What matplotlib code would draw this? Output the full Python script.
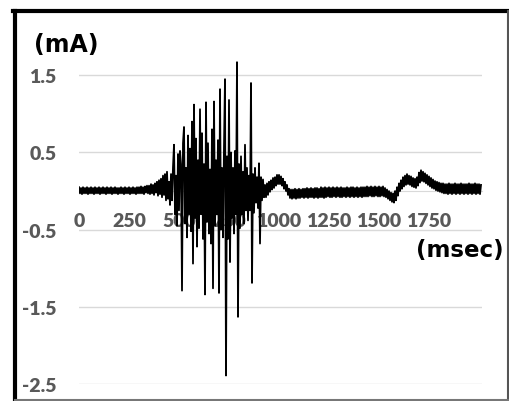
import numpy as np
import matplotlib.pyplot as plt
from matplotlib.lines import Line2D

# sampled every 5 ms
step_ms = 5

quiet = [
    0.05, -0.03, 0.04, -0.04, 0.05, -0.03, 0.04, -0.03, 0.05, -0.04, 0.04, -0.03, 0.05, -0.03, 0.04, -0.04, 0.05, -0.03, 0.04, -0.03,
    0.05, -0.04, 0.04, -0.03, 0.05, -0.03, 0.04, -0.04, 0.05, -0.03, 0.04, -0.03, 0.05, -0.04, 0.04, -0.03, 0.05, -0.03, 0.04, -0.04,
    0.04, -0.03, 0.05, -0.03, 0.04, -0.04, 0.05, -0.03, 0.04, -0.03, 0.05, -0.04, 0.04, -0.03, 0.05, -0.03, 0.04, -0.04, 0.05, -0.03,
    0.05, -0.03, 0.06, -0.03, 0.05, -0.04, 0.06, -0.02, 0.07, -0.03,
    0.07, -0.04, 0.09, -0.03, 0.08, -0.05, 0.10, -0.02, 0.12, -0.06, 0.14, -0.04, 0.16, -0.08, 0.20, -0.05, 0.22, -0.12, 0.25, -0.10,
]

burst = [
    0.12, -0.18, 0.22, -0.12, 0.31, 0.60, -0.30, 0.20, -0.45, 0.48,
    -0.25, 0.52, 0.35, -1.29, 0.62, 0.83, -0.42, 0.30, -0.60, 0.72,
    -0.30, 0.55, -0.52, 0.90, -0.94, 1.12, -0.35, 0.68, -0.72, 0.40,
    -0.48, 1.06, -0.30, 0.75, -0.62, 0.35, -1.34, 1.15, -0.40, 0.62,
    -0.55, 0.28, -0.68, 0.80, -1.26, 1.16, -0.45, 0.40, -0.30, 0.66,
    -1.32, 1.32, -0.50, 0.30, -0.60, 0.58, 1.45, -2.39, 0.45, -0.62,
    1.18, -0.92, 0.50, -0.35, 0.30, -0.55, 0.52, -0.30, 1.67, -1.63,
    0.35, -0.48, 0.45, -0.30, 0.25, -0.42, 0.60, -0.25, 0.30, -0.38,
    0.20, -0.25, 1.40, -1.19, 0.22, -0.28, 0.30, -0.15, 0.18, -0.22,
    0.36, -0.68, 0.18, -0.12, 0.15, -0.08,
]

after = [
    0.08, -0.08, 0.10, -0.05, 0.12, -0.01, 0.14, 0.02, 0.17, 0.04, 0.18, 0.07, 0.21, 0.09, 0.21, 0.09, 0.19, 0.07, 0.16, 0.03,
    0.12, 0.00, 0.08, -0.05, 0.03, -0.09, 0.02, -0.10, 0.02, -0.09, 0.03, -0.10, 0.02, -0.09, 0.03, -0.09, 0.02, -0.08, 0.03, -0.09,
    0.03, -0.08, 0.04, -0.09, 0.03, -0.08, 0.04, -0.08, 0.03, -0.09, 0.04, -0.08, 0.04, -0.09, 0.03, -0.08, 0.05, -0.08, 0.04, -0.09,
    0.05, -0.08, 0.04, -0.07, 0.05, -0.08, 0.04, -0.08, 0.05, -0.07, 0.04, -0.08, 0.05, -0.07, 0.04, -0.08, 0.05, -0.08, 0.04, -0.07,
    0.04, -0.08, 0.05, -0.07, 0.04, -0.08, 0.05, -0.07, 0.05, -0.08, 0.04, -0.07, 0.05, -0.08, 0.04, -0.07, 0.05, -0.08, 0.05, -0.07,
    0.05, -0.07, 0.06, -0.07, 0.05, -0.06, 0.06, -0.07, 0.05, -0.07, 0.06, -0.06, 0.05, -0.07, 0.06, -0.07, 0.05, -0.06, 0.06, -0.07,
    0.04, -0.08, 0.02, -0.10, 0.00, -0.12, -0.02, -0.14, -0.03, -0.15, 0.00, -0.12, 0.05, -0.06, 0.10, 0.00, 0.14, 0.03, 0.18, 0.06,
    0.20, 0.08, 0.22, 0.09, 0.20, 0.08, 0.19, 0.06, 0.17, 0.05, 0.16, 0.04, 0.18, 0.07, 0.24, 0.11, 0.27, 0.13, 0.25, 0.12,
    0.23, 0.10, 0.21, 0.08, 0.19, 0.06, 0.17, 0.04, 0.15, 0.03, 0.13, 0.01, 0.12, 0.00, 0.11, -0.01, 0.10, -0.02, 0.10, -0.03,
    0.09, -0.03, 0.09, -0.04, 0.10, -0.03, 0.09, -0.04, 0.09, -0.03, 0.10, -0.04, 0.09, -0.03, 0.09, -0.04, 0.10, -0.03, 0.09, -0.04,
    0.09, -0.03, 0.09, -0.04, 0.10, -0.03, 0.09, -0.04, 0.09, -0.03, 0.10, -0.04, 0.09, -0.03, 0.09, -0.04, 0.08,
]

current_ma = quiet + burst + after
time_ms = np.arange(len(current_ma)) * step_ms

x_ticks = [0, 250, 500, 750, 1000, 1250, 1500, 1750]
y_ticks = [-2.5, -1.5, -0.5, 0.5, 1.5]

plt.rcParams['font.family'] = ['Lato', 'DejaVu Sans']

fig = plt.figure(figsize=(5.1, 4.02), dpi=100)
ax = fig.add_axes([79 / 510, 17 / 402, 403 / 510, 328 / 402])

ax.plot(time_ms, current_ma, color='black', lw=1.3)

ax.set_xlim(0, 2015)
ax.set_ylim(-2.5, 1.75)
ax.set_yticks(y_ticks)
ax.set_yticklabels(['-2.5', '-1.5', '-0.5', '0.5', '1.5'])
ax.set_xticks(x_ticks)
ax.grid(axis='y', color='#d9d9d9', lw=1.0)
ax.set_axisbelow(True)

for s in ['top', 'right', 'left']:
    ax.spines[s].set_visible(False)
ax.spines['bottom'].set_position(('data', 0))
ax.spines['bottom'].set_color('#d9d9d9')
ax.spines['bottom'].set_zorder(0)

ax.tick_params(axis='both', length=0, labelcolor='#595959', labelsize=14)
ax.tick_params(axis='x', pad=15)
ax.tick_params(axis='y', pad=16)
for lab in ax.get_xticklabels() + ax.get_yticklabels():
    lab.set_fontweight('heavy')

fig.text(66 / 510, 1 - 45 / 402, '(mA)', fontsize=17, fontweight='bold',
         family='DejaVu Sans', ha='center', va='center')
fig.text(460 / 510, 1 - 251 / 402, '(msec)', fontsize=16.5, fontweight='bold',
         family='DejaVu Sans', ha='center', va='center')

# outer frame: heavy top/left, lighter right/bottom
fig.add_artist(Line2D([15 / 510, 15 / 510], [1 / 402, 1 - 12 / 402],
                      transform=fig.transFigure, color='black', lw=3.0))
fig.add_artist(Line2D([13 / 510, 508 / 510], [1 - 12 / 402, 1 - 12 / 402],
                      transform=fig.transFigure, color='black', lw=3.0))
fig.add_artist(Line2D([508 / 510, 508 / 510], [1 / 402, 1 - 12 / 402],
                      transform=fig.transFigure, color='#555555', lw=1.5))
fig.add_artist(Line2D([15 / 510, 508 / 510], [1.5 / 402, 1.5 / 402],
                      transform=fig.transFigure, color='#777777', lw=1.5))

fig.savefig('out.png', dpi=100)
